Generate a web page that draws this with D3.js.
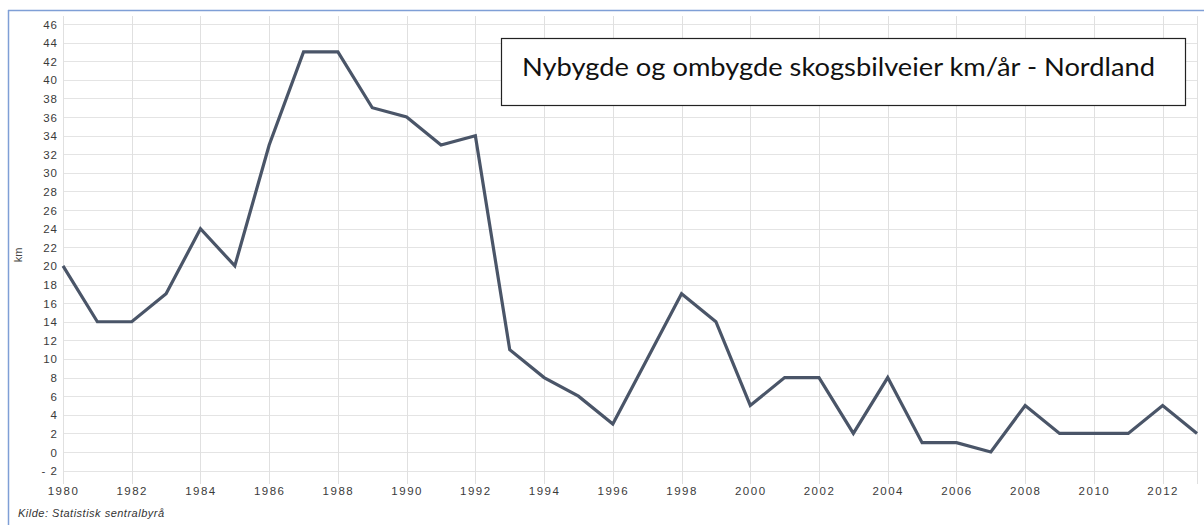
<!DOCTYPE html>
<html><head><meta charset="utf-8">
<script src="https://cdn.jsdelivr.net/npm/d3@7/dist/d3.min.js"></script>
<style>body{margin:0;background:#fff;} svg{display:block;}</style>
</head><body>
<svg id="c" width="1204" height="525"></svg>
<script>
const years = [1980,1981,1982,1983,1984,1985,1986,1987,1988,1989,1990,1991,1992,1993,1994,1995,1996,1997,1998,1999,2000,2001,2002,2003,2004,2005,2006,2007,2008,2009,2010,2011,2012,2013];
const values = [20,14,14,17,24,20,33,43,43,37,36,33,34,11,8,6,3,10,17,14,5,8,8,2,8,1,1,0,5,2,2,2,5,2];
const yTicks = [-2,0,2,4,6,8,10,12,14,16,18,20,22,24,26,28,30,32,34,36,38,40,42,44,46];
const xTicks = [1980,1982,1984,1986,1988,1990,1992,1994,1996,1998,2000,2002,2004,2006,2008,2010,2012];
const title = "Nybygde og ombygde skogsbilveier km/år - Nordland";
const yLabel = "km";
const source = "Kilde: Statistisk sentralbyrå";

const svg = d3.select("#c");
// outer frame (blue)
svg.append("line").attr("x1",8).attr("x2",1204).attr("y1",10.5).attr("y2",10.5).attr("stroke","#7f9fd6").attr("stroke-width",1.5);
svg.append("line").attr("x1",8.5).attr("x2",8.5).attr("y1",10).attr("y2",525).attr("stroke","#7f9fd6").attr("stroke-width",1.5);

const x = d3.scaleLinear().domain([1980,2013]).range([63,1197]);
const y = d3.scaleLinear().domain([0,46]).range([452,24]);
const plotTop = 16, plotBottom = 484;

const g = svg.append("g");
g.selectAll("line.h").data(yTicks).enter().append("line")
  .attr("x1",x(1980)).attr("x2",x(2013)+1)
  .attr("y1",d=>Math.round(y(d))+0.5).attr("y2",d=>Math.round(y(d))+0.5)
  .attr("stroke","#e4e4e4").attr("stroke-width",1);
g.selectAll("line.v").data(xTicks.concat([2013])).enter().append("line")
  .attr("x1",d=>Math.round(x(d))+0.5).attr("x2",d=>Math.round(x(d))+0.5)
  .attr("y1",plotTop).attr("y2",plotBottom)
  .attr("stroke","#e0e0e0").attr("stroke-width",1);

const yAxis = d3.axisLeft(y).tickValues(yTicks).tickSize(0).tickPadding(0)
  .tickFormat(d=> d<0 ? "- "+Math.abs(d) : String(d));
const ya = svg.append("g").attr("transform","translate(58,0)").call(yAxis);
ya.select(".domain").remove();
ya.selectAll("text").attr("font-family","Liberation Sans, Arial, sans-serif").attr("font-size",11.5)
  .attr("fill","#3a3a3a").attr("letter-spacing","1px").attr("dy","0.35em");

const xAxis = d3.axisBottom(x).tickValues(xTicks).tickSize(0).tickPadding(0).tickFormat(d3.format("d"));
const xa = svg.append("g").attr("transform","translate(0,487)").call(xAxis);
xa.select(".domain").remove();
xa.selectAll("text").attr("font-family","Liberation Sans, Arial, sans-serif").attr("font-size",11.5)
  .attr("fill","#3a3a3a").attr("letter-spacing","1.5px").attr("dy","0.71em");

svg.append("text").attr("transform","translate(22,255) rotate(-90)").attr("text-anchor","middle")
  .attr("font-family","Liberation Sans, Arial, sans-serif").attr("font-size",11).attr("fill","#444").text(yLabel);

svg.append("text").attr("x",18).attr("y",517)
  .attr("font-family","Liberation Sans, Arial, sans-serif").attr("font-size",11).attr("font-style","italic")
  .attr("fill","#333").attr("letter-spacing","0.5px").text(source);

const line = d3.line().x((d,i)=>x(years[i])).y(d=>y(d));
svg.append("path").datum(values).attr("d",line).attr("fill","none")
  .attr("stroke","#4a5568").attr("stroke-width",3.2).attr("stroke-linejoin","miter");

// title box
svg.append("rect").attr("x",501.5).attr("y",38.5).attr("width",684).attr("height",67)
  .attr("fill","#fff").attr("stroke","#222").attr("stroke-width",1.2);
svg.append("text").attr("x",522).attr("y",76)
  .attr("font-family","Lato, sans-serif").attr("font-size",25).attr("fill","#111")
  .attr("textLength",633).attr("lengthAdjust","spacingAndGlyphs").text(title);
</script>
</body></html>
